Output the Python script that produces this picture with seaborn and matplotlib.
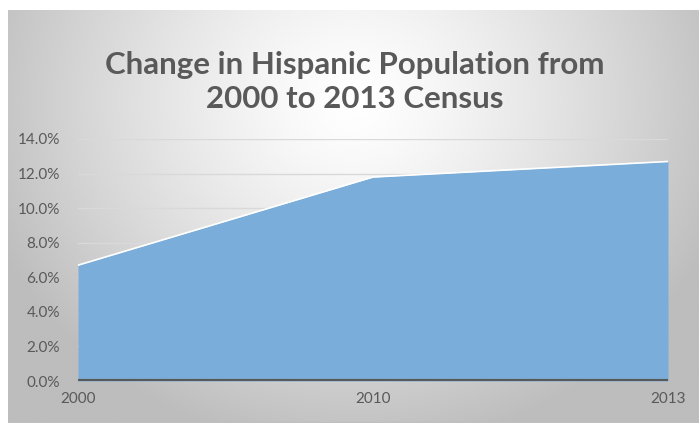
import numpy as np
import matplotlib
matplotlib.use("Agg")
import matplotlib.pyplot as plt
import seaborn as sns

years = ["2000", "2010", "2013"]
hispanic_share = [0.067, 0.118, 0.127]
y_ticks = [0.0, 0.02, 0.04, 0.06, 0.08, 0.10, 0.12, 0.14]

sns.set_theme(style="white")
plt.rcParams['font.family'] = ['Lato', 'DejaVu Sans']

W, H = 699, 423
fig = plt.figure(figsize=(W / 100, H / 100), dpi=100)
fig.patch.set_facecolor("white")

# radial gradient background (Excel style)
bg = fig.add_axes([8 / W, 0, 1 - 8 / W, (H - 10) / H], zorder=0)
gx, gy = np.meshgrid(np.linspace(0, 1, 400), np.linspace(0, 1, 250))
r = np.sqrt(((gx - 0.5) / 0.6) ** 2 + ((gy - 0.22) / 0.9) ** 2)
shade = np.clip(1.0 - 0.28 * r ** 1.3, 0.74, 1.0)
bg.imshow(shade, cmap="gray", vmin=0, vmax=1, aspect="auto",
          extent=[0, 1, 1, 0], interpolation="bicubic")
bg.axhline(1, color="#bfbfbf", lw=1.5)
bg.set_xlim(0, 1)
bg.set_ylim(1, 0)
bg.axis("off")

ax = fig.add_axes([78 / W, (H - 381) / H, (668 - 78) / W, (381 - 139) / H], zorder=1)
ax.patch.set_alpha(0)
x = np.arange(len(years))
ax.fill_between(x, 0, hispanic_share, color="#7aadda", lw=0, zorder=2)
sns.lineplot(x=x, y=hispanic_share, ax=ax, color="white", lw=1.2, zorder=3)
for t in y_ticks[1:]:
    ax.axhline(t, color="#d9d9d9", lw=1, zorder=1)
ax.axhline(0, color="#595959", lw=3, zorder=4)

ax.set_xlim(0, len(years) - 1)
ax.set_ylim(0, 0.14)
ax.set_xticks(x)
ax.set_xticklabels(years)
ax.set_yticks(y_ticks)
ax.set_yticklabels([f"{v * 100:.1f}%" for v in y_ticks])
ax.tick_params(axis="both", length=0, labelsize=11, colors="#595959")
ax.tick_params(axis="y", pad=13)
ax.tick_params(axis="x", pad=8)
for s in ax.spines.values():
    s.set_visible(False)

fig.text(0.507, 1 - 82 / H, "Change in Hispanic Population from\n2000 to 2013 Census",
         ha="center", va="center", fontsize=22.5, fontweight="bold",
         color="#595959", linespacing=1.3)

fig.savefig("out.png", dpi=100)
